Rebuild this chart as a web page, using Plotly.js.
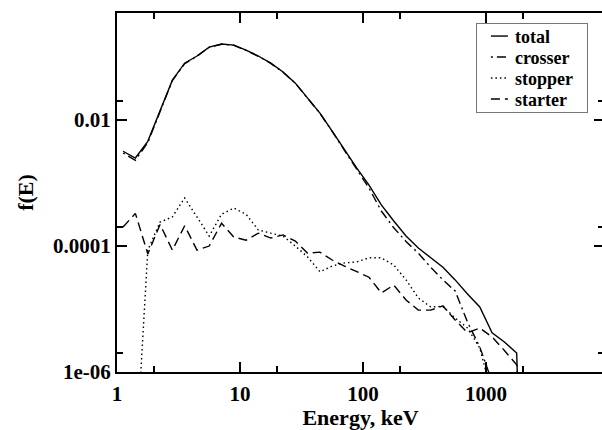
<!DOCTYPE html>
<html>
<head>
<meta charset="utf-8">
<script src="https://cdn.plot.ly/plotly-3.0.1.min.js"></script>
<style>
html, body { margin: 0; padding: 0; overflow: hidden; background: #fff; }
#chart { width: 610px; height: 430px; }
</style>
</head>
<body>
<div id="chart"></div>
<script>
// Energy bin centres (keV)
var energy = [1.12, 1.41, 1.78, 2.24, 2.82, 3.55, 4.47, 5.62, 7.08, 8.91,
              11.2, 14.1, 17.8, 22.4, 28.2, 35.5, 44.7, 56.2, 70.8, 89.1,
              112, 141, 178, 224, 282, 355, 447, 562, 708, 891,
              1122, 1413, 1778, 2239];

var total = [3.2e-3, 2.5e-3, 4.6e-3, 1.44e-2, 4.3e-2, 8.0e-2, 0.104, 0.144, 0.161, 0.155,
             0.129, 0.104, 0.080, 0.058, 0.0386, 0.0223, 0.0129, 6.7e-3, 3.34e-3, 1.73e-3,
             9.3e-4, 4.5e-4, 2.5e-4, 1.44e-4, 9.3e-5, 6.5e-5, 4.6e-5, 2.9e-5, 1.73e-5, 1.08e-5,
             4.2e-6, 3.0e-6, 2.0e-6, 1e-12];

var crosser = [3.0e-3, 2.3e-3, 4.4e-3, 1.40e-2, 4.25e-2, 7.9e-2, 0.103, 0.143, 0.160, 0.154,
               0.128, 0.103, 0.0795, 0.0575, 0.0384, 0.0221, 0.0128, 6.6e-3, 3.28e-3, 1.66e-3,
               8.3e-4, 3.6e-4, 1.95e-4, 1.18e-4, 7.7e-5, 4.6e-5, 2.9e-5, 1.93e-5, 6.2e-6, 2.5e-6,
               7e-7, 1e-12, 1e-12, 1e-12];

var stopper = [1e-9, 3e-8, 8.6e-5, 2.4e-4, 2.9e-4, 5.8e-4, 2.9e-4, 1.44e-4, 3.2e-4, 4.0e-4,
               3.2e-4, 1.8e-4, 1.6e-4, 1.44e-4, 1.0e-4, 6.7e-5, 3.9e-5, 4.8e-5, 5.4e-5, 5.6e-5,
               6.5e-5, 6.5e-5, 5.0e-5, 2.9e-5, 1.5e-5, 1.08e-5, 1.1e-5, 7.2e-6, 5.0e-6, 2.4e-6,
               4.3e-7, 1e-12, 1e-12, 1e-12];

var starter = [2.0e-4, 3.3e-4, 7.5e-5, 2.2e-4, 8.6e-5, 2.1e-4, 8.6e-5, 1.0e-4, 2.3e-4, 1.39e-4,
               1.24e-4, 1.6e-4, 1.34e-4, 1.5e-4, 1.2e-4, 7.7e-5, 8.0e-5, 6.0e-5, 4.8e-5, 3.9e-5,
               3.2e-5, 1.8e-5, 2.4e-5, 1.39e-5, 9.6e-6, 9.6e-6, 1.12e-5, 6.7e-6, 4.2e-6, 5.0e-6,
               3.6e-6, 2.2e-6, 1.3e-6, 1e-12];

var seriesNames = ['total', 'crosser', 'stopper', 'starter'];

var xTickVals = [1, 10, 100, 1000];
var xTickText = ['1', '10', '100', '1000'];
var xMinorVals = [2, 20, 200, 2000];
var yTickVals = [1e-6, 1e-4, 1e-2];
var yTickText = ['1e-06', '0.0001', '0.01'];
var yMinorVals = [2e-6, 2e-4, 2e-2];

var serif = 'Liberation Serif';
var lineW = 1.4;

function tr(y, name, dash) {
  return {
    x: energy, y: y, name: name, type: 'scatter', mode: 'lines',
    line: {color: '#000', width: lineW, dash: dash},
    hoverinfo: 'skip'
  };
}

var data = [
  tr(total, seriesNames[0], 'solid'),
  tr(crosser, seriesNames[1], '2px,4px,9px,4px'),
  tr(stopper, seriesNames[2], '1.5px,3px'),
  tr(starter, seriesNames[3], '9px,5px')
];

var tickFont = {family: serif, size: 21, weight: 700, color: '#000'};

var layout = {
  width: 610, height: 430,
  font: {family: serif, size: 20, color: '#000'},
  margin: {l: 117, r: 6, t: 13, b: 58, pad: 0},
  paper_bgcolor: '#fff', plot_bgcolor: '#fff',
  showlegend: true,
  xaxis: {
    type: 'log', range: [0, 3.96],
    tickmode: 'array', tickvals: xTickVals, ticktext: xTickText,
    ticks: 'inside', ticklen: 10, tickwidth: 1.5, tickcolor: '#000',
    minor: {tickmode: 'array', tickvals: xMinorVals, ticks: 'inside', ticklen: 6, tickwidth: 1.5, tickcolor: '#000', showgrid: false},
    showline: true, linewidth: 2, linecolor: '#000', mirror: 'ticks',
    showgrid: false, zeroline: false,
    tickfont: tickFont, ticklabelstandoff: 2,
    title: {text: 'Energy, keV', font: {family: serif, size: 22, weight: 700, color: '#000'}, standoff: 9}
  },
  yaxis: {
    type: 'log', range: [-6, -0.3],
    tickmode: 'array', tickvals: yTickVals, ticktext: yTickText,
    ticks: 'inside', ticklen: 10, tickwidth: 1.5, tickcolor: '#000',
    minor: {tickmode: 'array', tickvals: yMinorVals, ticks: 'inside', ticklen: 6, tickwidth: 1.5, tickcolor: '#000', showgrid: false},
    showline: true, linewidth: 2, linecolor: '#000', mirror: 'ticks',
    showgrid: false, zeroline: false,
    tickfont: tickFont,
    title: {text: 'f(E)', font: {family: serif, size: 22, weight: 700, color: '#000'}, standoff: 13}
  },
  legend: {
    x: 0.737, y: 0.972, xanchor: 'left', yanchor: 'top',
    bgcolor: '#fff', bordercolor: '#777', borderwidth: 1,
    font: {family: serif, size: 18, weight: 700, color: '#000'},
    itemwidth: 30
  }
};

Plotly.newPlot('chart', data, layout, {displayModeBar: false, staticPlot: true}).then(function (gd) {
  // tighten legend rows to the compact spacing of the original figure
  try {
    var leg = gd.querySelector('.legend');
    var rows = leg.querySelectorAll('.traces');
    var rowGap = 21, firstRow = 13;
    rows.forEach(function (t, i) {
      var m = /translate\(([^,\s]+)[,\s]/.exec(t.getAttribute('transform') || '');
      var tx = m ? m[1] : '1';
      t.setAttribute('transform', 'translate(' + tx + ',' + (firstRow + i * rowGap) + ')');
    });
    var bg = leg.querySelector('rect.bg');
    if (bg) {
      bg.setAttribute('height', firstRow * 2 + (rows.length - 1) * rowGap);
      bg.setAttribute('width', 111);
    }
    leg.querySelectorAll('.legendlines path').forEach(function (p) {
      p.setAttribute('d', 'M14,0h17');
    });
    leg.querySelectorAll('text.legendtext').forEach(function (tx) {
      tx.setAttribute('x', 38);
    });
  } catch (e) {}
});
</script>
</body>
</html>
